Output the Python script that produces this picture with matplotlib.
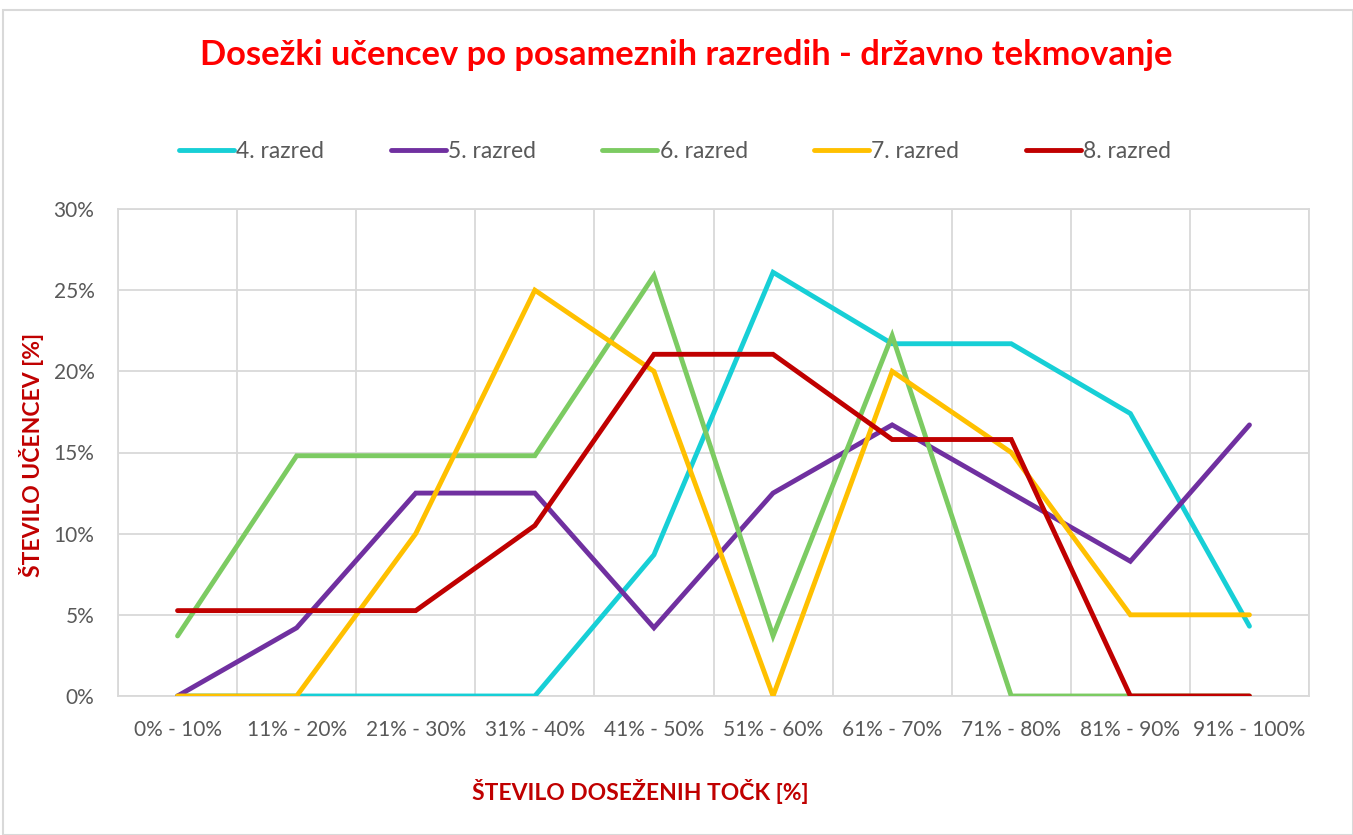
import matplotlib
matplotlib.use("Agg")
import matplotlib.pyplot as plt
from matplotlib.patches import Rectangle
from matplotlib.ticker import FuncFormatter, FixedLocator

categories = ["0% - 10%", "11% - 20%", "21% - 30%", "31% - 40%", "41% - 50%",
              "51% - 60%", "61% - 70%", "71% - 80%", "81% - 90%", "91% - 100%"]
series_names = ["4. razred", "5. razred", "6. razred", "7. razred", "8. razred"]
r4 = [0.0, 0.0, 0.0, 0.0, 8.7, 26.1, 21.7, 21.7, 17.4, 4.3]
r5 = [0.0, 4.2, 12.5, 12.5, 4.2, 12.5, 16.7, 12.5, 8.3, 16.7]
r6 = [3.7, 14.8, 14.8, 14.8, 25.9, 3.7, 22.2, 0.0, 0.0, 0.0]
r7 = [0.0, 0.0, 10.0, 25.0, 20.0, 0.0, 20.0, 15.0, 5.0, 5.0]
r8 = [5.26, 5.26, 5.26, 10.5, 21.05, 21.05, 15.8, 15.8, 0.0, 0.0]
colors = ["#17CFD6", "#7030A0", "#7CCB62", "#FFC000", "#C00000"]

W, H = 1353, 835
fig = plt.figure(figsize=(W / 100, H / 100), dpi=100)
fig.patch.set_facecolor("white")
fig.add_artist(Rectangle((3 / W, 0), 1 - 3 / W, 1 - 10 / H, transform=fig.transFigure,
                         fill=False, edgecolor="#D9D9D9", linewidth=1.5))

ax = fig.add_axes([118 / W, 1 - 696 / H, (1309 - 118) / W, (696 - 209) / H])
x = list(range(len(categories)))
for vals, name, c in zip([r4, r5, r6, r7, r8], series_names, colors):
    ax.plot(x, [v / 100 for v in vals], color=c, linewidth=3.5, label=name,
            solid_capstyle="round", solid_joinstyle="miter", zorder=3)

ax.set_xlim(-0.5, len(categories) - 0.5)
ax.set_ylim(0, 0.30)
ax.set_yticks([0, 0.05, 0.10, 0.15, 0.20, 0.25, 0.30])
ax.yaxis.set_major_formatter(FuncFormatter(lambda v, p: f"{round(v * 100)}%"))
ax.set_xticks(x)
ax.set_xticklabels(categories)
ax.xaxis.set_minor_locator(FixedLocator([i + 0.5 for i in range(-1, len(categories))]))
ax.grid(True, which="minor", axis="x", color="#D9D9D9", linewidth=1.3, zorder=0)
ax.grid(True, which="major", axis="y", color="#D9D9D9", linewidth=1.3, zorder=0)
ax.tick_params(which="both", length=0)
ax.tick_params(axis="x", pad=17, labelsize=15, labelcolor="#595959")
ax.tick_params(axis="y", pad=17, labelsize=15, labelcolor="#595959")
for lab in ax.get_xticklabels() + ax.get_yticklabels():
    lab.set_fontfamily("Lato")
for s in ax.spines.values():
    s.set_color("#D9D9D9")
    s.set_linewidth(1.3)

fig.text(686 / W, 1 - 55 / H, "Dosežki učencev po posameznih razredih - državno tekmovanje",
         ha="center", va="center", color="#FF0000", fontsize=24.8, fontweight="bold",
         family="Lato")
fig.text(640 / W, 1 - 792 / H, "ŠTEVILO DOSEŽENIH TOČK [%]", ha="center", va="center",
         color="#C00000", fontsize=16.5, fontweight="bold", family="Lato")
fig.text(32 / W, 1 - 455 / H, "ŠTEVILO UČENCEV [%]", ha="center", va="center",
         rotation=90, color="#C00000", fontsize=16.5, fontweight="bold", family="Lato")

leg = fig.legend(loc="center", bbox_to_anchor=(675 / W, 1 - 152 / H), ncol=5,
                 frameon=False, handlelength=2.4, handletextpad=0.1, columnspacing=2.9,
                 prop={"family": "Lato", "size": 16.5})
for t in leg.get_texts():
    t.set_color("#595959")

fig.savefig("out.png", dpi=100)
